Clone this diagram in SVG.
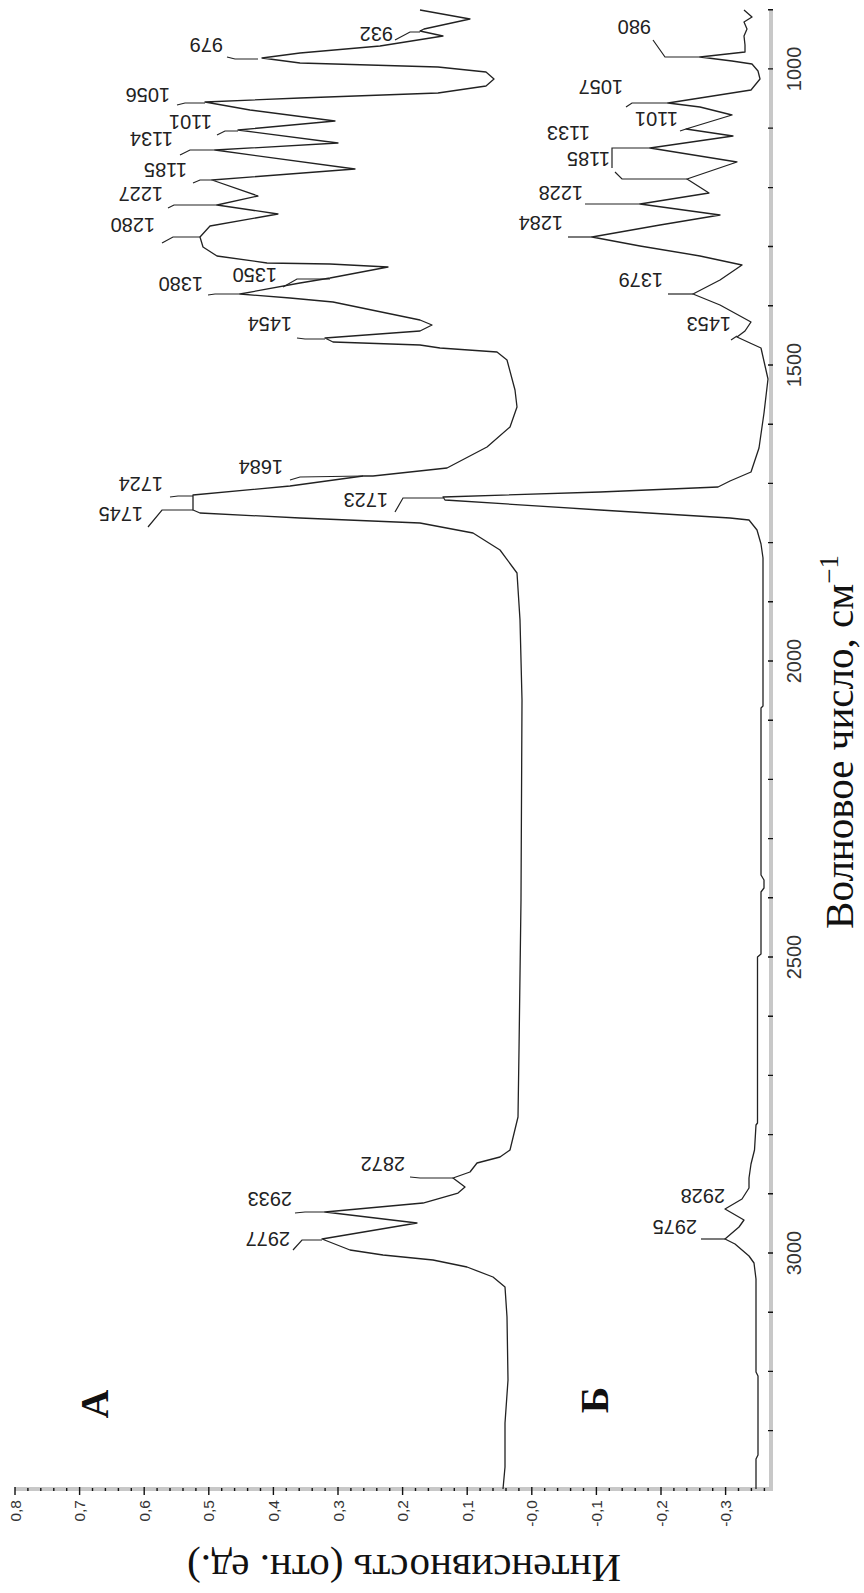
<svg xmlns="http://www.w3.org/2000/svg" width="864" height="1593" viewBox="0 0 864 1593">
<style>
.ax{stroke:#c8c8c8;stroke-width:4;fill:none}
.tk{stroke:#111;stroke-width:1.4;fill:none}
.tr{stroke:#222;stroke-width:1.3;fill:none;stroke-linejoin:round}
.ld{stroke:#222;stroke-width:1.2;fill:none}
.pk{font-family:"Liberation Sans",Arial,sans-serif;font-size:20px;fill:#222}
.tl{font-family:"Liberation Sans",Arial,sans-serif;font-size:15.5px;fill:#333}
.wl{font-family:"Liberation Sans",Arial,sans-serif;font-size:20px;fill:#333}
.tt{font-family:"Liberation Serif","Times New Roman",serif;font-size:41px;fill:#111}
.lt{font-family:"Liberation Serif","Times New Roman",serif;font-size:40px;font-weight:bold;fill:#111}
</style>
<rect width="864" height="1593" fill="#fff"/>
<g id="axes">
<line class="ax" x1="15" y1="1489" x2="773" y2="1489"/>
<line class="ax" x1="771" y1="9" x2="771" y2="1491"/>
<g id="ticks-wn" class="tk">
<path d="M768 9.7h5M768 68.9h5M768 128.1h5M768 187.6h5M768 246.5h5M768 305.8h5M768 365h5M768 424.2h5M768 483.4h5M768 542.6h5M768 601.8h5M768 661h5M768 720.2h5M768 779.4h5M768 838.6h5M768 897.8h5M768 957h5M768 1016.2h5M768 1075.4h5M768 1134.6h5M768 1193.8h5M768 1253h5M768 1312.2h5M768 1371.4h5M768 1430.6h5"/>
</g>
<g id="ticks-int" class="tk">
<path d="M15 1487v8M79.6 1487v8M144.2 1487v8M208.8 1487v8M273.4 1487v8M338 1487v8M402.6 1487v8M467.2 1487v8M531.8 1487v8M596.4 1487v8M661 1487v8M725.6 1487v8"/>
<path d="M27.9 1488v3M40.8 1488v3M53.8 1488v3M66.7 1488v3M92.5 1488v3M105.4 1488v3M118.4 1488v3M131.3 1488v3M157.1 1488v3M170 1488v3M183 1488v3M195.9 1488v3M221.7 1488v3M234.6 1488v3M247.6 1488v3M260.5 1488v3M286.3 1488v3M299.2 1488v3M312.2 1488v3M325.1 1488v3M350.9 1488v3M363.8 1488v3M376.8 1488v3M389.7 1488v3M415.5 1488v3M428.4 1488v3M441.4 1488v3M454.3 1488v3M480.1 1488v3M493 1488v3M506 1488v3M518.9 1488v3M544.7 1488v3M557.6 1488v3M570.6 1488v3M583.5 1488v3M609.3 1488v3M622.2 1488v3M635.2 1488v3M648.1 1488v3M673.9 1488v3M686.8 1488v3M699.8 1488v3M712.7 1488v3M738.5 1488v3M751.4 1488v3M764.4 1488v3"/>
</g>
<g id="labels-int" class="tl" text-anchor="end">
<text transform="translate(20.5,1500) rotate(-90)">0,8</text>
<text transform="translate(85.1,1500) rotate(-90)">0,7</text>
<text transform="translate(149.7,1500) rotate(-90)">0,6</text>
<text transform="translate(214.3,1500) rotate(-90)">0,5</text>
<text transform="translate(278.9,1500) rotate(-90)">0,4</text>
<text transform="translate(343.5,1500) rotate(-90)">0,3</text>
<text transform="translate(408.1,1500) rotate(-90)">0,2</text>
<text transform="translate(472.7,1500) rotate(-90)">0,1</text>
<text transform="translate(537.3,1500) rotate(-90)">-0,0</text>
<text transform="translate(601.9,1500) rotate(-90)">-0,1</text>
<text transform="translate(666.5,1500) rotate(-90)">-0,2</text>
<text transform="translate(731.1,1500) rotate(-90)">-0,3</text>
</g>
<g id="labels-wn" class="wl" text-anchor="middle">
<text transform="translate(801,68.9) rotate(-90)">1000</text>
<text transform="translate(801,365) rotate(-90)">1500</text>
<text transform="translate(801,661) rotate(-90)">2000</text>
<text transform="translate(801,957) rotate(-90)">2500</text>
<text transform="translate(801,1253) rotate(-90)">3000</text>
</g>
<text id="title-x" class="tt" text-anchor="middle" transform="translate(853,742) rotate(-90)">Волновое число, см<tspan dy="-15" font-size="27">−1</tspan></text>
<text id="title-y" class="tt" text-anchor="middle" font-size="39" transform="translate(404,1555) rotate(180)">Интенсивность (отн. ед.)</text>
</g>
<g id="spectrum-A">
<polyline class="tr" points="420,10 470,19 424,29 420,31 443,36 380,46 300,53 262,58 300,63 438,67 486,72 494,79 486,86 438,93 300,98 205,102 250,110 335,121 238,130 338,143 215,150 355,169 212,180 258,196 217,205 278,214 210,226 200,237 203,247 217,256 267,263 330,264 388,267 330,278 300,283 240,294 290,298 333,302 420,320 432,325 420,331 325,338 333,342 420,345 440,348 497,352 507,360 515,390 517,407 510,427 487,447 447,468 373,476 363,476 290,486 193,495 193,510 200,513 300,518 420,523 473,533 500,550 517,573 520,620 522,700 521,900 519,1050 518,1117 510,1150 500,1157 477,1163 470,1172 453,1178 465,1187 458,1193 423,1203 325,1212 417,1223 322,1239 350,1250 383,1255 433,1260 467,1267 493,1277 505,1287 507,1317 508,1380 505,1423 505,1467 503,1489"/>
<text class="lt" transform="translate(108,1404) rotate(-90)" text-anchor="middle">А</text>
</g>
<g id="spectrum-B">
<polyline class="tr" points="744,10 752,17 744,22 747,29 744,36 745,45 745,52 700,57 732,61 752,64 758,71 760,79 751,90 700,98 668,103 700,107 732,115 686,129 733,136 650,148 737,162 687,179 709,193 640,204 720,215 660,225 592,237 640,246 700,256 742,265 720,280 693,294 720,305 751,322 745,331 737,337 750,343 761,348 768,379 764,413 759,448 751,472 730,481 718,487 600,492 443,497 445,500 600,510 730,518 749,520 757,530 761,544 763,558 763,706 761,708 761,875 764,880 764,888 761,892 761,954 757.5,957 757.5,1123 756,1125 754.5,1150 751,1164 749,1178 749,1188 742,1199 725,1209 744,1220 739,1227 725,1239 735,1244 749,1256 754,1263 756,1279 756,1372 758,1376 758,1455 756,1459 756,1489"/>
<text class="lt" transform="translate(608,1400) rotate(-90)" text-anchor="middle">Б</text>
</g>
<g id="connectors">
<g class="ld">
<polyline points="395,40 410,32 420,32"/>
<polyline points="227,57 235,59 258,59"/>
<polyline points="177,105 185,103 205,103"/>
<polyline points="217,135 225,131 238,131"/>
<polyline points="180,155 190,150 215,150"/>
<polyline points="193,183 200,180 212,180"/>
<polyline points="168,208 174,205 217,205"/>
<polyline points="162,243 173,237 200,237"/>
<polyline points="283,287 297,279 330,279"/>
<polyline points="208,295 215,294 240,294"/>
<polyline points="297,338 305,339 325,339"/>
<polyline points="290,480 300,477 363,476"/>
<polyline points="170,497 178,496 193,496"/>
<polyline points="148,527 162,510 193,510"/>
<polyline points="410,1177 420,1178 453,1178"/>
<polyline points="295,1213 305,1212 325,1212"/>
<polyline points="293,1250 302,1240 322,1240"/>
<polyline points="653,40 665,57 700,57"/>
<polyline points="626,107 632,103 668,103"/>
<polyline points="680,131 686,129"/>
<polyline points="612,168 612,148 650,148"/>
<polyline points="615,172 622,179 687,179"/>
<polyline points="585,204 640,204"/>
<polyline points="568,237 592,237"/>
<polyline points="668,294 693,294"/>
<polyline points="731,340 737,336"/>
<polyline points="395,512 403,498 443,498"/>
<polyline points="701,1239 725,1239"/>
</g>
</g>
<g id="peak-labels" class="pk">
<text transform="translate(393,27) rotate(180)">932</text>
<text transform="translate(223,38) rotate(180)">979</text>
<text transform="translate(170,88) rotate(180)">1056</text>
<text transform="translate(212,115) rotate(180)">1101</text>
<text transform="translate(173,132) rotate(180)">1134</text>
<text transform="translate(187,163) rotate(180)">1185</text>
<text transform="translate(163,187) rotate(180)">1227</text>
<text transform="translate(155,218) rotate(180)">1280</text>
<text transform="translate(277,268) rotate(180)">1350</text>
<text transform="translate(203,277) rotate(180)">1380</text>
<text transform="translate(292,317) rotate(180)">1454</text>
<text transform="translate(283,460) rotate(180)">1684</text>
<text transform="translate(163,477) rotate(180)">1724</text>
<text transform="translate(143,507) rotate(180)">1745</text>
<text transform="translate(405,1157) rotate(180)">2872</text>
<text transform="translate(292,1192) rotate(180)">2933</text>
<text transform="translate(290,1232) rotate(180)">2977</text>
<text transform="translate(651,20) rotate(180)">980</text>
<text transform="translate(623,80) rotate(180)">1057</text>
<text transform="translate(678,112) rotate(180)">1101</text>
<text transform="translate(590,126) rotate(180)">1133</text>
<text transform="translate(610,152) rotate(180)">1185</text>
<text transform="translate(583,186) rotate(180)">1228</text>
<text transform="translate(563,216) rotate(180)">1284</text>
<text transform="translate(663,273) rotate(180)">1379</text>
<text transform="translate(731,317) rotate(180)">1453</text>
<text transform="translate(388,493) rotate(180)">1723</text>
<text transform="translate(725,1189) rotate(180)">2928</text>
<text transform="translate(697,1220) rotate(180)">2975</text>
</g>
</svg>
